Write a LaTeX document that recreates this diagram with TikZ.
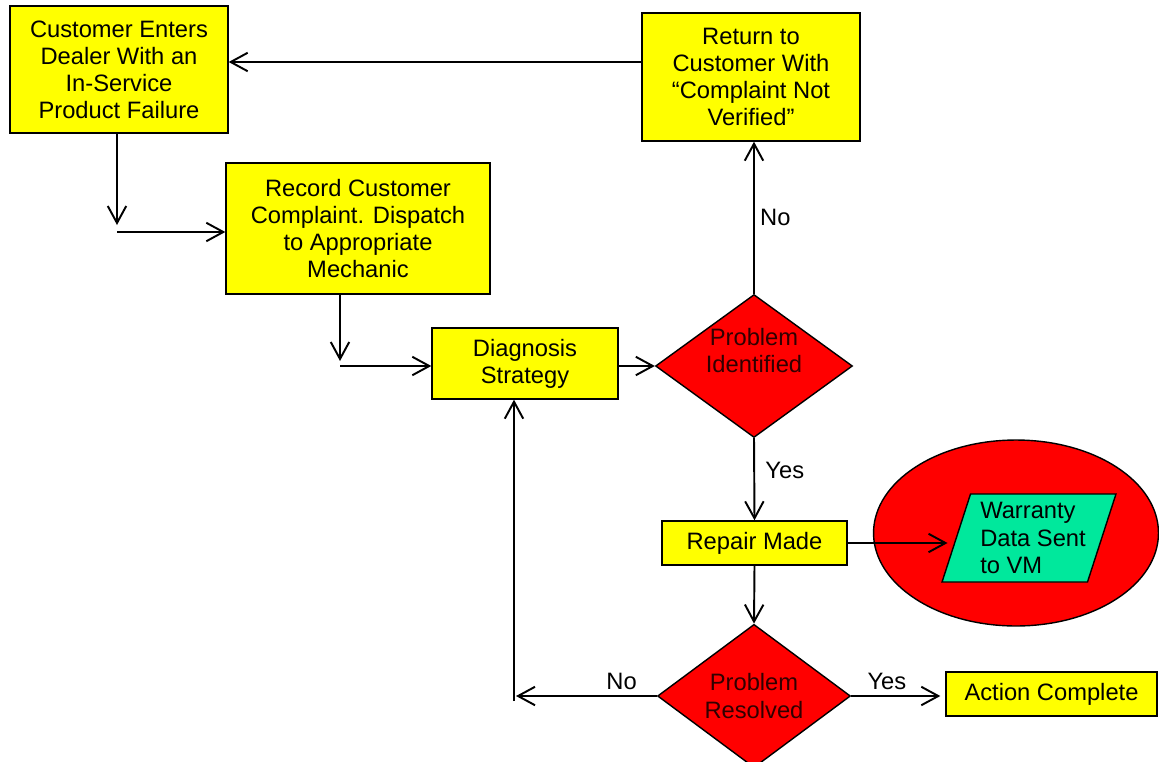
\documentclass[tikz,border=0pt]{standalone}
\usepackage{fontspec}
\setmainfont{Liberation Sans}
\usetikzlibrary{shapes.geometric, arrows.meta, positioning, calc}
\definecolor{BoxYellow}{HTML}{FFFF00}
\definecolor{DecRed}{HTML}{FF0000}
\definecolor{DecText}{HTML}{300000}
\definecolor{DataGreen}{HTML}{00E89C}
\newcommand{\flowfont}{\fontsize{13.5}{15.4}\selectfont}

\begin{document}
\begin{tikzpicture}[x=0.02cm, y=-0.02cm, >={Straight Barb[length=3.4mm, width=3.7mm]},
        box/.style={rectangle, draw=black, line width=0.8pt, fill=BoxYellow, text centered, align=center, inner sep=2pt, font=\flowfont},
        decision/.style={diamond, draw=black, line width=0.8pt, fill=DecRed, text=DecText, align=center, inner sep=0pt, font=\flowfont},
        data/.style={trapezium, trapezium left angle=69, trapezium right angle=111, trapezium stretches=true, draw=black, line width=0.8pt, fill=DataGreen, align=left, inner sep=1pt, font=\flowfont},
        arrow/.style={->, line width=1.1pt, black},
        lbl/.style={font=\flowfont, inner sep=3pt}
    ]
    \useasboundingbox (0,0) rectangle (1159,761);

    % Eingang und Ruecklauf
    \node[box, minimum width=4.36cm, minimum height=2.54cm] (cust) at (119,69.5) {Customer Enters\\Dealer With an\\In-Service\\Product Failure};
    \node[box, minimum width=4.36cm, minimum height=2.56cm] (ret) at (751,77) {Return to\\Customer With\\``Complaint Not\\Verified''};
    \node[box, minimum width=5.28cm, minimum height=2.62cm] (rec) at (358,228.5) {Record Customer\\Complaint. Dispatch\\to Appropriate\\Mechanic};
    \node[box, minimum width=3.72cm, minimum height=1.42cm] (diag) at (525,363.5) {Diagnosis\\Strategy};

    % Entscheidungen
    \node[decision, minimum width=3.94cm, minimum height=2.86cm] (ident) at (754,366) {\raisebox{0.13cm}[0pt][0pt]{\begin{tabular}{@{}c@{}}Problem\\Identified\end{tabular}}};
    \node[box, minimum width=3.7cm, minimum height=0.88cm] (rep) at (754.5,543) {Repair Made};
    \node[decision, minimum width=3.86cm, minimum height=2.64cm] (res) at (754,696) {Problem\\Resolved};
    \node[box, minimum width=4.22cm, minimum height=0.88cm] (act) at (1051.5,694) {Action Complete};

    % Garantiedaten
    \node[ellipse, draw=black, line width=0.8pt, fill=DecRed, minimum width=5.7cm, minimum height=3.72cm] (vmzone) at (1016,533) {};
    \node[data, minimum width=3.36cm, minimum height=1.76cm] (warr) at (1029,538) {\hspace*{0.16cm}Warranty\\\hspace*{0.16cm}Data Sent\hspace*{-0.16cm}\\\hspace*{0.16cm}to VM};

    % Hilfspunkte
    \coordinate (j1) at (117,232);
    \coordinate (j2) at (340,366);
    \coordinate (j3) at (514,696);

    % Pfeile
    \draw[arrow] ([yshift=0.3cm]ret.west) -- ([yshift=0.3cm]ret.west -| cust.east);
    \draw[arrow] (cust.south -| j1) -- ([yshift=0.14cm]j1);
    \draw[arrow] (j1) -- (j1 -| rec.west);
    \draw[arrow] (rec.south -| j2) -- ([yshift=0.1cm]j2);
    \draw[arrow] (j2) -- (j2 -| diag.west);
    \draw[arrow] (ident.west -| diag.east) -- (ident.west);
    \draw[arrow] (ident.north) -- node[lbl, right] {No} (ident.north |- ret.south);
    \draw[arrow] (ident.south) -- node[lbl, right, pos=0.39, xshift=0.1cm] {Yes} (rep.north);
    \draw[arrow] (rep.east) -- ([xshift=-0.16cm]rep.east -| warr.west);
    \draw[arrow] (rep.south) -- (res.north);
    \draw[arrow] (res.east) -- node[lbl, above, pos=0.4] {Yes} ([xshift=-0.1cm]res.east -| act.west);
    \draw[arrow] (res.west) -- node[lbl, above, pos=0.25] {No} ([xshift=0.04cm]j3);
    \draw[arrow] ([yshift=-0.1cm]j3) -- (j3 |- diag.south);

\end{tikzpicture}
\end{document}
